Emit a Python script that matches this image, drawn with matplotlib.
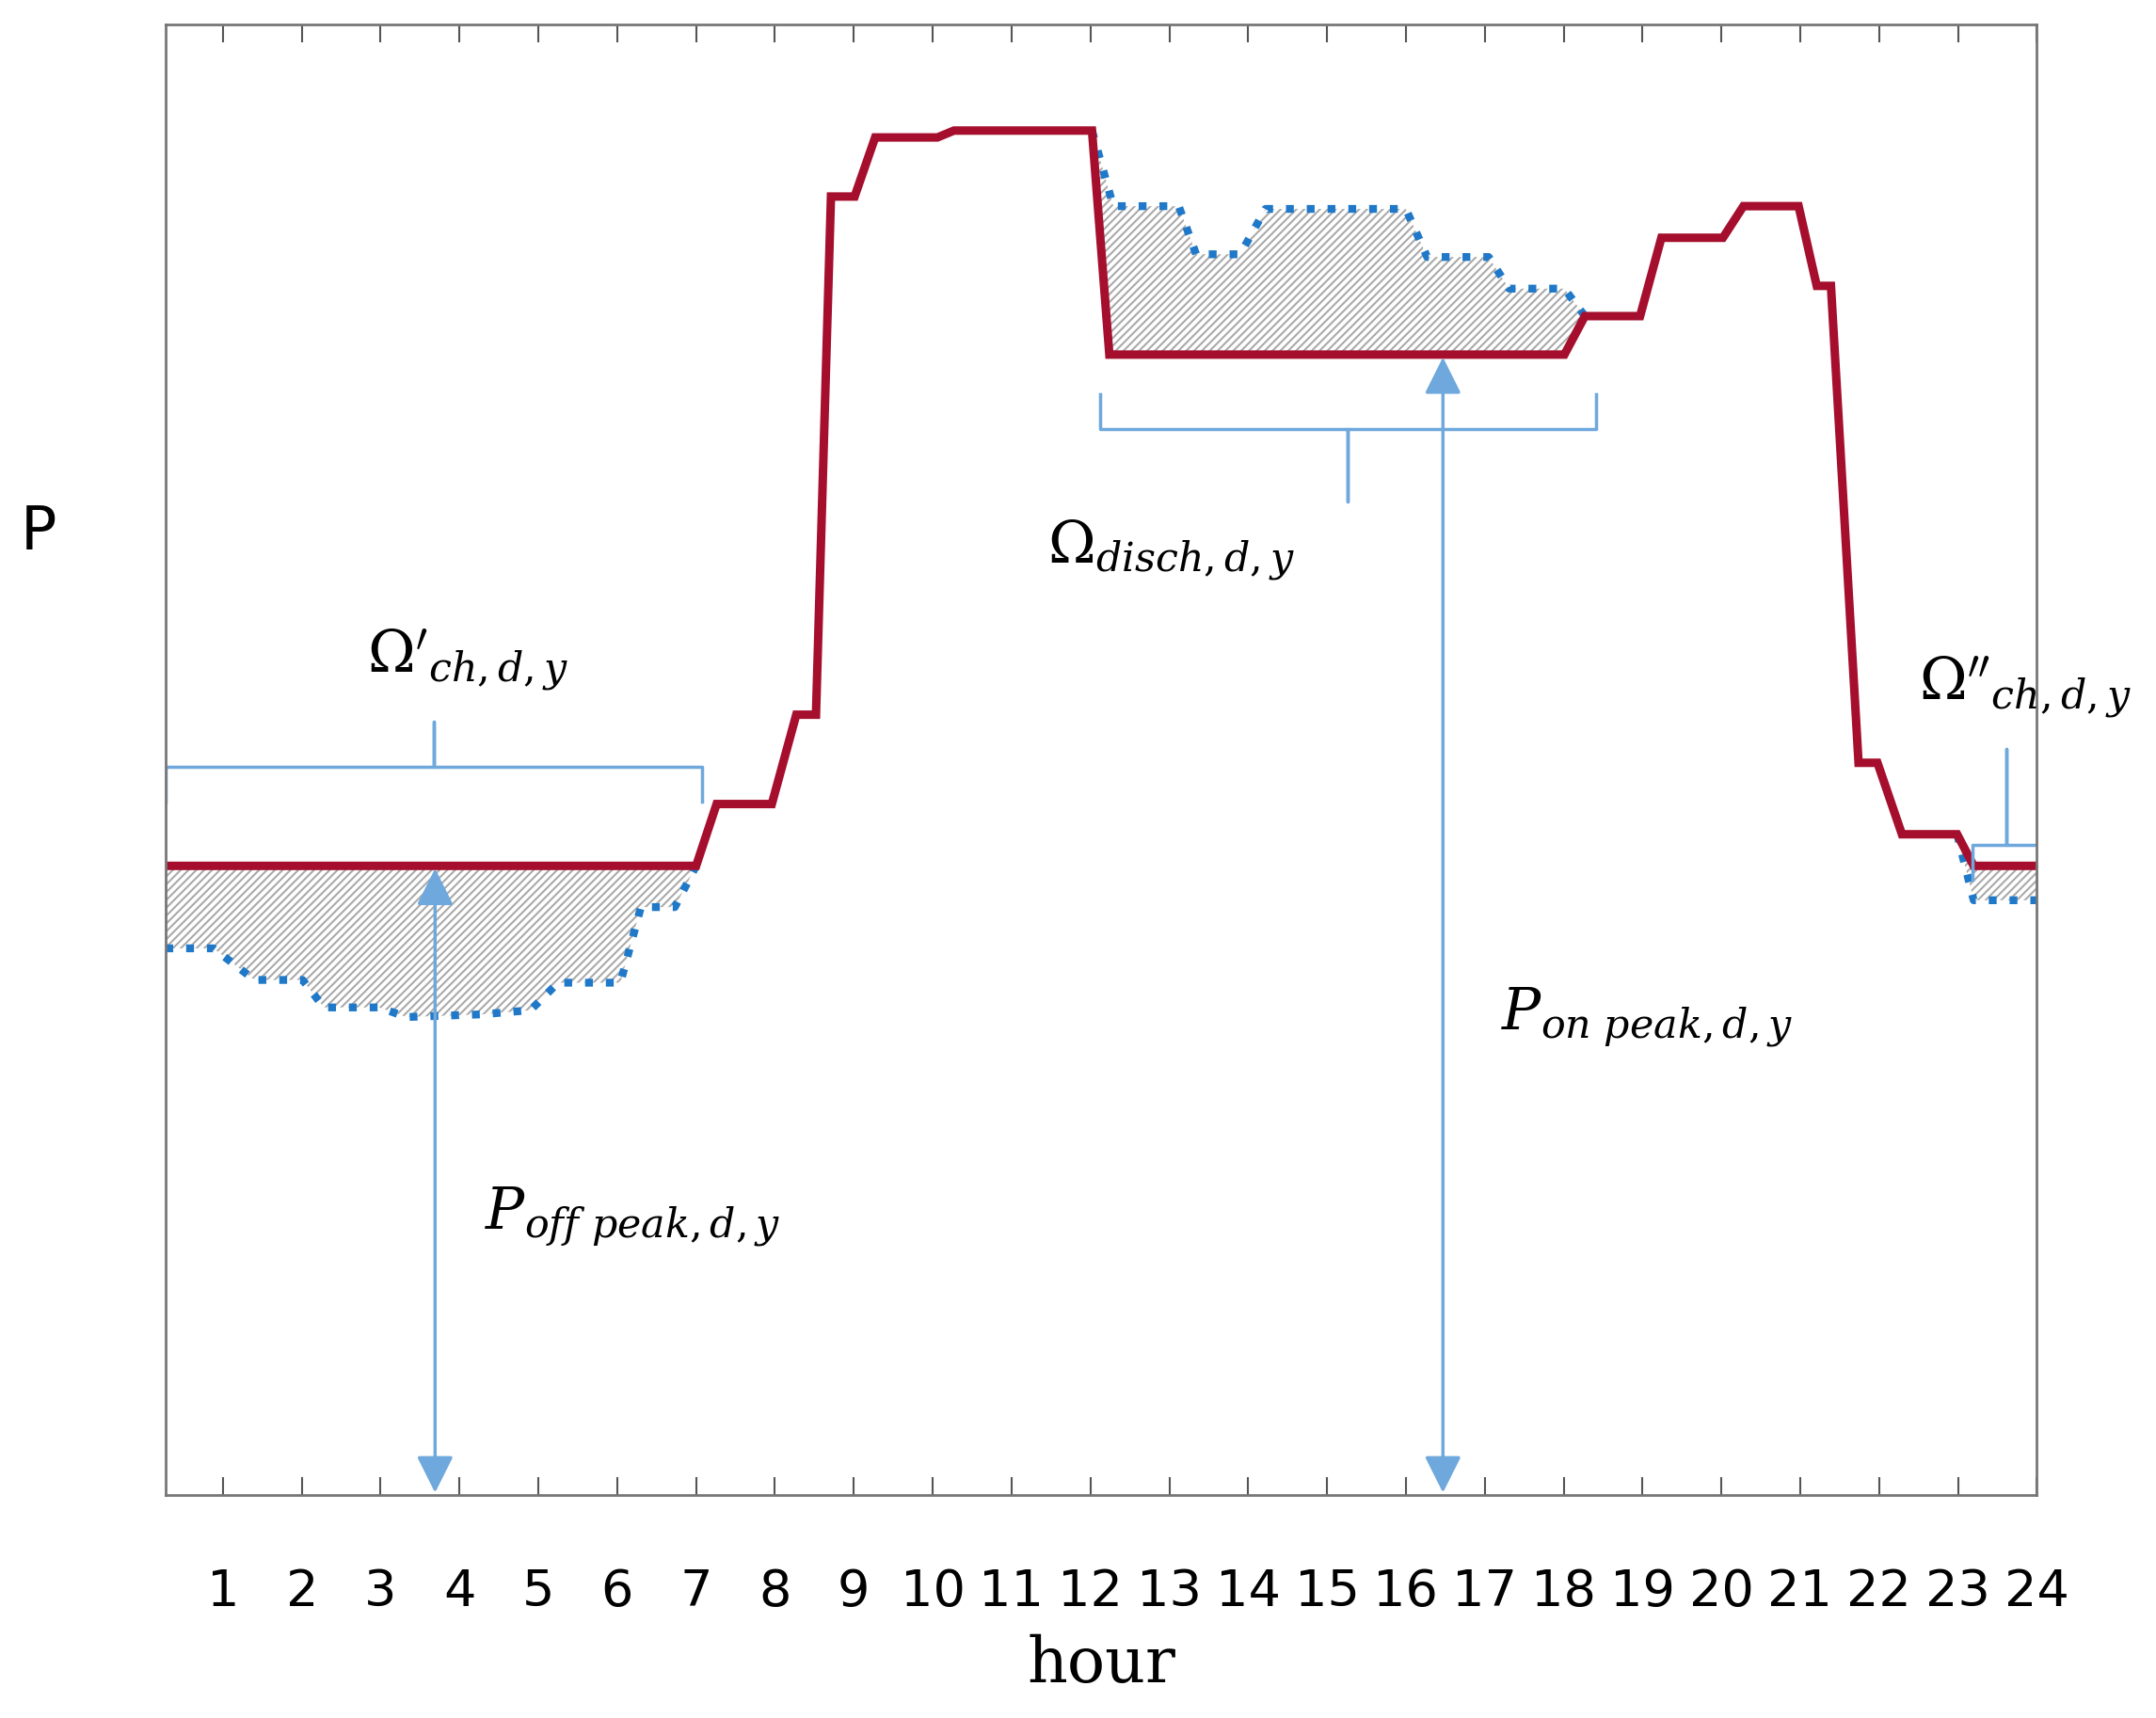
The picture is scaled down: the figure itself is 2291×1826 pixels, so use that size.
import matplotlib
matplotlib.use("Agg")
import matplotlib.pyplot as plt
import numpy as np

plt.rcParams['mathtext.fontset'] = 'dejavuserif'
plt.rcParams['hatch.color'] = '#aaaaaa'
plt.rcParams['hatch.linewidth'] = 1.5

# Red load curve (hour, P)
red_h = [0.27, 7.0, 7.26, 7.96, 8.27, 8.52, 8.71, 9.01, 9.27, 10.06, 10.27, 12.02, 12.24, 18.01,
         18.27, 18.97, 19.24, 20.02, 20.28, 20.98, 21.21, 21.39, 21.74, 21.98, 22.29, 22.99, 23.2, 24.0]
red_p = [458, 458, 503, 503, 568, 568, 945, 945, 988, 988, 993, 993, 830, 830,
         858, 858, 915, 915, 938, 938, 880, 880, 533, 533, 481, 481, 458, 458]

# Blue dotted curve segments
b1_h = [0.27, 0.88, 1.4, 2.01, 2.28, 2.98, 3.33, 4.29, 4.9, 5.25, 6.04, 6.3, 6.73, 7.0]
b1_p = [398, 398, 375, 375, 355, 355, 348, 350, 353, 373, 373, 428, 428, 458]
b2_h = [12.02, 12.29, 13.12, 13.34, 13.9, 14.22, 16.0, 16.27, 17.05, 17.31, 18.01, 18.27]
b2_p = [993, 938, 938, 903, 903, 936, 936, 901, 901, 878, 878, 858]
b3_h = [22.99, 23.2, 24.0]
b3_p = [481, 433, 433]

hours = list(range(1, 25))

fig = plt.figure(figsize=(22.91, 18.26), dpi=100)
ax = fig.add_axes([0.0767, 0.1296, 0.868, 0.856])
ax.set_xlim(0.27, 24)
ax.set_ylim(0, 1070)

red_c = '#a50f2d'
blue_c = '#1f78c8'
lb = '#6fa8dc'

def interp_red(h):
    return np.interp(h, red_h, red_p)

for bh, bp in [(b1_h, b1_p), (b2_h, b2_p), (b3_h, b3_p)]:
    hh = np.linspace(bh[0], bh[-1], 400)
    bb = np.interp(hh, bh, bp)
    rr = interp_red(hh)
    ax.fill_between(hh, bb, rr, facecolor='white', edgecolor='#aaaaaa', hatch='////', linewidth=0)
    ax.plot(bh, bp, color=blue_c, linestyle=':', linewidth=6)

ax.plot(red_h, red_p, color=red_c, linewidth=6.5, solid_joinstyle='miter')

def brace(x0, x1, y, tip, up=True):
    d = 25 if up else -25
    xm = (x0 + x1) / 2
    ax.plot([x0, x0, xm, xm, xm, x1, x1], [y - d, y, y, y + d * (tip / 25), y, y, y - d],
            color=lb, linewidth=2.5)

brace(0.27, 7.08, 530, 33, up=True)
brace(12.12, 18.41, 776, 53, up=False)
brace(23.18, 24.05, 473, 70, up=True)

for h, top in [(3.69, 458), (16.47, 830)]:
    ax.annotate('', xy=(h, 0), xytext=(h, top),
                arrowprops=dict(arrowstyle='<|-|>', color=lb, lw=2.5, mutation_scale=60))

fs = 44
ax.text(4.11, 608, r"$\Omega'_{ch,d,y}$", fontsize=fs, ha='center', va='center')
ax.text(13.03, 688, r"$\Omega_{disch,d,y}$", fontsize=fs, ha='center', va='center')
ax.text(23.85, 588, r"$\Omega''_{ch,d,y}$", fontsize=fs, ha='center', va='center', clip_on=False)
ax.text(19.06, 348, r"$P_{on\ peak,d,y}$", fontsize=fs, ha='center', va='center')
ax.text(6.2, 203, r"$P_{off\ peak,d,y}$", fontsize=fs, ha='center', va='center')

ax.set_xticks(hours)
ax.set_xticklabels([str(h) for h in hours], fontsize=39)
ax.set_yticks([])
ax.tick_params(axis='x', direction='in', length=14, width=1.5, color='#555555', pad=55, top=True)
for s in ax.spines.values():
    s.set_color('#777777')
    s.set_linewidth(2)
ax.set_xlabel('hour', fontsize=48, family='DejaVu Serif', labelpad=14)
fig.text(0.018, 0.69, 'P', fontsize=46, ha='center', va='center')

fig.savefig('out.png', dpi=100)
